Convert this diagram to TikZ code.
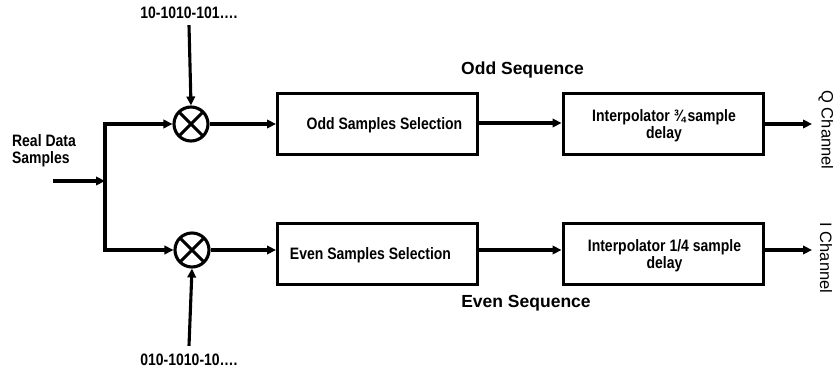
\documentclass[tikz,border=0pt]{standalone}
\usepackage{fontspec}
\setmainfont{Liberation Sans}
\usetikzlibrary{arrows.meta,calc}

\tikzset{
  wire/.style={line width=3.1pt},
  arr/.style={wire,-{Triangle[length=9pt,width=8.5pt]}},
  blockbox/.style={draw,line width=3pt,minimum width=200pt,minimum height=61pt,inner sep=0pt},
  mixer/.style={draw,circle,line width=3.1pt,minimum size=34pt,inner sep=0pt,
    path picture={\draw[line width=3.1pt]
      (path picture bounding box.north west) -- (path picture bounding box.south east)
      (path picture bounding box.north east) -- (path picture bounding box.south west);}},
  smalltxt/.style={font=\fontsize{14}{14.5}\selectfont\bfseries,inner sep=0pt,align=center,yscale=1.18},
  bigtxt/.style={font=\fontsize{17.5}{20}\selectfont\bfseries,inner sep=0pt},
  chantxt/.style={font=\fontsize{16.5}{20}\selectfont,inner sep=0pt,rotate=-90},
}

\begin{document}
\begin{tikzpicture}[x=1pt,y=-1pt]
\useasboundingbox (0,0) rectangle (833,371);

% sequence labels and mixers
\node[smalltxt] (seqtop) at (189,13) {10-1010-101\ldots.};
\node[smalltxt] (seqbot) at (189,360) {010-1010-10\ldots.};
\node[mixer] (mixtop) at (191,124) {};
\node[mixer] (mixbot) at (192,250) {};

% input
\node[smalltxt,align=left] (realtxt) at (44,151) {Real Data\\Samples};
\coordinate (src) at (53,181);
\coordinate (split) at (105,181);

% blocks
\node[blockbox] (odd) at (377.5,124) {};
\node[blockbox] (even) at (377.5,254) {};
\node[blockbox] (itop) at (663,124) {};
\node[blockbox] (ibot) at (663,254) {};
\node[smalltxt] (oddtxt) at (384.5,125) {Odd Samples Selection};
\node[smalltxt] (eventxt) at (370.5,255) {Even Samples Selection};
\node[smalltxt] (itoptxt) at (664,125.5) {Interpolator \textthreequarters\hspace{0.15em}sample\\delay};
\node[smalltxt] (ibottxt) at (664.5,255.5) {Interpolator 1/4 sample\\delay};

% stream labels
\node[bigtxt] (oddseq) at (522.5,70) {Odd Sequence};
\node[bigtxt] (evenseq) at (526,303) {Even Sequence};
\coordinate (qout) at (812,124);
\coordinate (iout) at (812,250);
\node[chantxt] (qch) at (826,130) {Q Channel};
\node[chantxt] (ich) at (826,258) {I Channel};

% connectors
\draw[arr] ([yshift=-6pt]seqtop.south) -- (mixtop.north);
\draw[arr] ([yshift=8pt]seqbot.north) -- (mixbot.south);
\draw[arr] (src) -- (split);
\draw[arr] (split |- mixbot) |- (mixtop.west);
\draw[arr] (split) |- (mixbot.west);
\draw[arr] (mixtop.east) -- (mixtop.east -| odd.west);
\draw[arr] (mixbot.east) -- (mixbot.east -| even.west);
\draw[arr] (odd.east |- 0,123) -- (itop.west |- 0,123);
\draw[arr] (even.east |- 0,250) -- (ibot.west |- 0,250);
\draw[arr] (itop.east |- qout) -- (qout);
\draw[arr] (ibot.east |- iout) -- (iout);
\end{tikzpicture}
\end{document}
